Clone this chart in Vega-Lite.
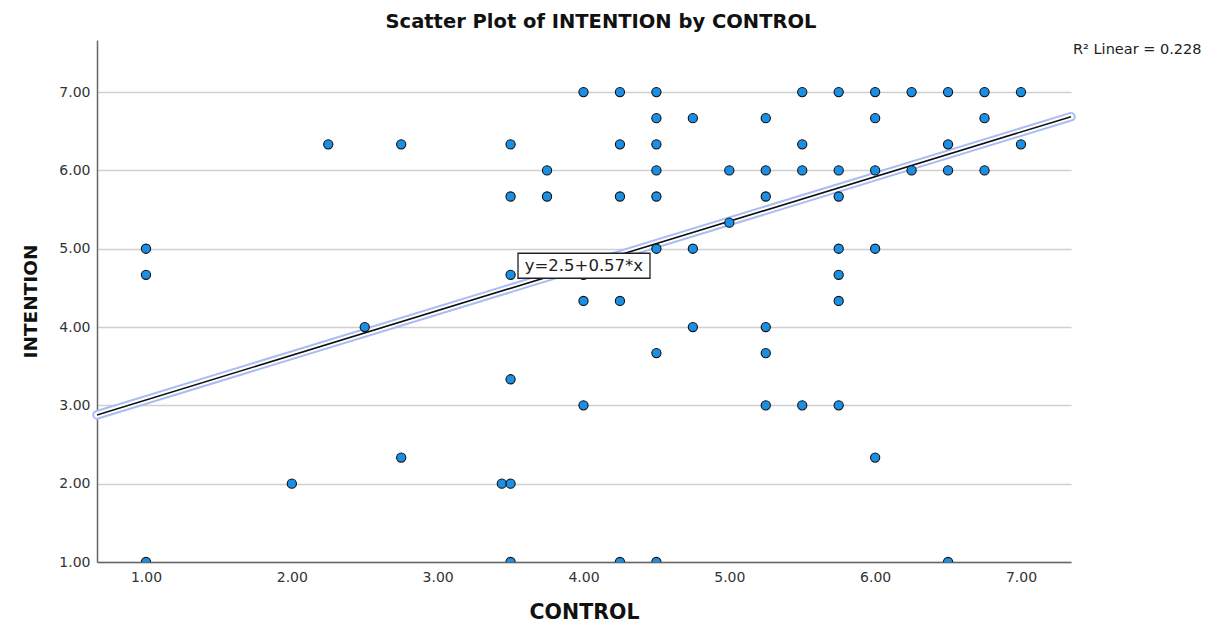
{
  "$schema": "https://vega.github.io/schema/vega-lite/v6.json",
  "autosize": {"type": "none"},
  "width": 974,
  "height": 522,
  "padding": {"left": 97, "top": 40, "right": 147, "bottom": 65},
  "background": "white",
  "config": {"view": {"stroke": null}, "font": "DejaVu Sans"},
  "title": {
    "text": "Scatter Plot of INTENTION by CONTROL",
    "font": "DejaVu Sans",
    "fontSize": 19.5,
    "fontWeight": "bold",
    "color": "#111111",
    "anchor": "middle",
    "dx": 17,
    "offset": 8
  },
  "datasets": {
    "pts": [
      {"CONTROL": 1.0, "INTENTION": 5.0},
      {"CONTROL": 1.0, "INTENTION": 4.667},
      {"CONTROL": 1.0, "INTENTION": 1.0},
      {"CONTROL": 2.0, "INTENTION": 2.0},
      {"CONTROL": 2.25, "INTENTION": 6.333},
      {"CONTROL": 2.5, "INTENTION": 4.0},
      {"CONTROL": 2.75, "INTENTION": 6.333},
      {"CONTROL": 2.75, "INTENTION": 2.333},
      {"CONTROL": 3.44, "INTENTION": 2.0},
      {"CONTROL": 3.5, "INTENTION": 6.333},
      {"CONTROL": 3.5, "INTENTION": 5.667},
      {"CONTROL": 3.5, "INTENTION": 4.667},
      {"CONTROL": 3.5, "INTENTION": 3.333},
      {"CONTROL": 3.5, "INTENTION": 2.0},
      {"CONTROL": 3.5, "INTENTION": 1.0},
      {"CONTROL": 3.75, "INTENTION": 6.0},
      {"CONTROL": 3.75, "INTENTION": 5.667},
      {"CONTROL": 4.0, "INTENTION": 7.0},
      {"CONTROL": 4.0, "INTENTION": 4.667},
      {"CONTROL": 4.0, "INTENTION": 4.333},
      {"CONTROL": 4.0, "INTENTION": 3.0},
      {"CONTROL": 4.25, "INTENTION": 7.0},
      {"CONTROL": 4.25, "INTENTION": 6.333},
      {"CONTROL": 4.25, "INTENTION": 5.667},
      {"CONTROL": 4.25, "INTENTION": 4.333},
      {"CONTROL": 4.25, "INTENTION": 1.0},
      {"CONTROL": 4.5, "INTENTION": 7.0},
      {"CONTROL": 4.5, "INTENTION": 6.667},
      {"CONTROL": 4.5, "INTENTION": 6.333},
      {"CONTROL": 4.5, "INTENTION": 6.0},
      {"CONTROL": 4.5, "INTENTION": 5.667},
      {"CONTROL": 4.5, "INTENTION": 5.0},
      {"CONTROL": 4.5, "INTENTION": 3.667},
      {"CONTROL": 4.5, "INTENTION": 1.0},
      {"CONTROL": 4.75, "INTENTION": 6.667},
      {"CONTROL": 4.75, "INTENTION": 5.0},
      {"CONTROL": 4.75, "INTENTION": 4.0},
      {"CONTROL": 5.0, "INTENTION": 6.0},
      {"CONTROL": 5.0, "INTENTION": 5.333},
      {"CONTROL": 5.25, "INTENTION": 6.667},
      {"CONTROL": 5.25, "INTENTION": 6.0},
      {"CONTROL": 5.25, "INTENTION": 5.667},
      {"CONTROL": 5.25, "INTENTION": 4.0},
      {"CONTROL": 5.25, "INTENTION": 3.667},
      {"CONTROL": 5.25, "INTENTION": 3.0},
      {"CONTROL": 5.5, "INTENTION": 7.0},
      {"CONTROL": 5.5, "INTENTION": 6.333},
      {"CONTROL": 5.5, "INTENTION": 6.0},
      {"CONTROL": 5.5, "INTENTION": 3.0},
      {"CONTROL": 5.75, "INTENTION": 7.0},
      {"CONTROL": 5.75, "INTENTION": 6.0},
      {"CONTROL": 5.75, "INTENTION": 5.667},
      {"CONTROL": 5.75, "INTENTION": 5.0},
      {"CONTROL": 5.75, "INTENTION": 4.667},
      {"CONTROL": 5.75, "INTENTION": 4.333},
      {"CONTROL": 5.75, "INTENTION": 3.0},
      {"CONTROL": 6.0, "INTENTION": 7.0},
      {"CONTROL": 6.0, "INTENTION": 6.667},
      {"CONTROL": 6.0, "INTENTION": 6.0},
      {"CONTROL": 6.0, "INTENTION": 5.0},
      {"CONTROL": 6.0, "INTENTION": 2.333},
      {"CONTROL": 6.25, "INTENTION": 7.0},
      {"CONTROL": 6.25, "INTENTION": 6.0},
      {"CONTROL": 6.5, "INTENTION": 7.0},
      {"CONTROL": 6.5, "INTENTION": 6.333},
      {"CONTROL": 6.5, "INTENTION": 6.0},
      {"CONTROL": 6.5, "INTENTION": 1.0},
      {"CONTROL": 6.75, "INTENTION": 7.0},
      {"CONTROL": 6.75, "INTENTION": 6.667},
      {"CONTROL": 6.75, "INTENTION": 6.0},
      {"CONTROL": 7.0, "INTENTION": 7.0},
      {"CONTROL": 7.0, "INTENTION": 6.333}
    ],
    "fit": [
      {"CONTROL": 0.664, "INTENTION": 2.878},
      {"CONTROL": 7.343, "INTENTION": 6.686}
    ],
    "box": [
      {"x1": 3.551, "x2": 4.456, "y1": 4.623, "y2": 4.942, "xc": 4.003, "yc": 4.776, "label": "y=2.5+0.57*x"}
    ],
    "r2": [
      {"CONTROL": 7.357, "INTENTION": 7.537, "label": "R² Linear = 0.228"}
    ]
  },
  "layer": [
    {
      "data": {"name": "fit"},
      "mark": {"type": "line", "stroke": "#a9bdf3", "strokeWidth": 9.5, "strokeCap": "round", "clip": false},
      "encoding": {
        "x": {
          "field": "CONTROL", "type": "quantitative",
          "scale": {"domain": [0.664, 7.343], "nice": false, "zero": false},
          "axis": {
            "title": "CONTROL",
            "values": [1, 2, 3, 4, 5, 6, 7],
            "format": ".2f",
            "grid": false,
            "ticks": false,
            "domainColor": "#666666",
            "domainWidth": 1.5,
            "labelFont": "DejaVu Sans",
            "labelFontSize": 14,
            "labelColor": "#333333",
            "labelPadding": 8,
            "titleFont": "DejaVu Sans",
            "titleFontSize": 20.5,
            "titleFontWeight": "bold",
            "titleColor": "#111111",
            "titlePadding": 18
          }
        },
        "y": {
          "field": "INTENTION", "type": "quantitative",
          "scale": {"domain": [1, 7.665], "nice": false, "zero": false},
          "axis": {
            "title": "INTENTION",
            "values": [1, 2, 3, 4, 5, 6, 7],
            "format": ".2f",
            "grid": true,
            "gridColor": "#d0d0d0",
            "gridWidth": 1.3,
            "ticks": false,
            "domainColor": "#666666",
            "domainWidth": 1.5,
            "labelFont": "DejaVu Sans",
            "labelFontSize": 14,
            "labelColor": "#333333",
            "labelPadding": 7,
            "titleFont": "DejaVu Sans",
            "titleFontSize": 18.5,
            "titleFontWeight": "bold",
            "titleColor": "#111111",
            "titlePadding": 18
          }
        }
      }
    },
    {
      "data": {"name": "fit"},
      "mark": {"type": "line", "stroke": "#ffffff", "strokeWidth": 5.5, "strokeCap": "round", "clip": false},
      "encoding": {
        "x": {"field": "CONTROL", "type": "quantitative"},
        "y": {"field": "INTENTION", "type": "quantitative"}
      }
    },
    {
      "data": {"name": "fit"},
      "mark": {"type": "line", "stroke": "#111111", "strokeWidth": 1.6, "clip": false},
      "encoding": {
        "x": {"field": "CONTROL", "type": "quantitative"},
        "y": {"field": "INTENTION", "type": "quantitative"}
      }
    },
    {
      "data": {"name": "pts"},
      "mark": {"type": "point", "shape": "circle", "filled": true, "fill": "#1a8fe3", "stroke": "#111111", "strokeWidth": 1.1, "size": 85, "opacity": 1, "clip": true},
      "encoding": {
        "x": {"field": "CONTROL", "type": "quantitative"},
        "y": {"field": "INTENTION", "type": "quantitative"}
      }
    },
    {
      "data": {"name": "box"},
      "mark": {"type": "rect", "fill": "#ffffff", "stroke": "#222222", "strokeWidth": 1.3},
      "encoding": {
        "x": {"field": "x1", "type": "quantitative"},
        "x2": {"field": "x2"},
        "y": {"field": "y1", "type": "quantitative"},
        "y2": {"field": "y2"}
      }
    },
    {
      "data": {"name": "box"},
      "mark": {"type": "text", "font": "DejaVu Sans", "fontSize": 16.5, "color": "#222222", "align": "center", "baseline": "middle"},
      "encoding": {
        "x": {"field": "xc", "type": "quantitative"},
        "y": {"field": "yc", "type": "quantitative"},
        "text": {"field": "label"}
      }
    },
    {
      "data": {"name": "r2"},
      "mark": {"type": "text", "font": "DejaVu Sans", "fontSize": 14.5, "color": "#222222", "align": "left", "baseline": "middle", "clip": false},
      "encoding": {
        "x": {"field": "CONTROL", "type": "quantitative"},
        "y": {"field": "INTENTION", "type": "quantitative"},
        "text": {"field": "label"}
      }
    }
  ]
}
